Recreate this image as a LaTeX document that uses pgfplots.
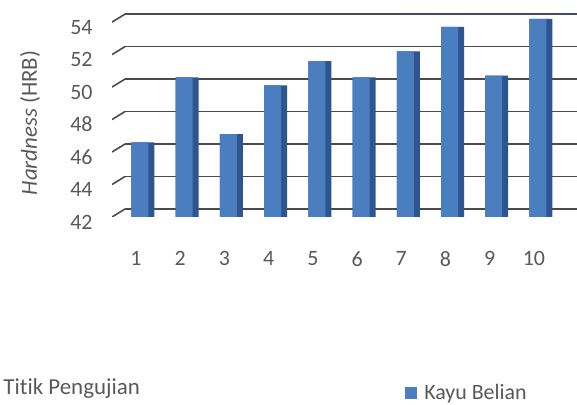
\documentclass[border=0pt]{standalone}
\usepackage{pgfplots}
\pgfplotsset{compat=1.18}
\usepackage{fontspec}
\setmainfont{Carlito}[Ligatures=NoCommon]
\definecolor{barfront}{HTML}{4A7EBF}
\definecolor{barside}{HTML}{2D5690}
\definecolor{gridc}{HTML}{4A4A4A}
\definecolor{txt}{HTML}{595959}
\definecolor{navyline}{HTML}{2E4D8A}
\begin{document}
\begin{tikzpicture}
\useasboundingbox (0,0) rectangle (577bp,405bp);
\begin{axis}[
  at={(112bp,188bp)}, anchor=south west,
  scale only axis, width=463bp, height=203bp,
  xmin=0.3, xmax=10.77, ymin=42, ymax=54.5,
  ybar,
  axis line style={draw=none},
  major tick length=0pt,
  xtick={1,...,10}, ytick={42,44,...,54},
  ymajorgrids,
  grid style={gridc, line width=1.6bp, yshift=8bp, xshift=13bp},
  tick label style={font=\fontsize{22}{24}\selectfont, text=txt},
  /pgf/number format/assume math mode=true,
  yticklabel style={anchor=east, xshift=-16bp, yshift=-5bp},
  xticklabel style={anchor=north, xshift=-7bp, yshift=-31bp},
  xlabel={Titik Pengujian},
  xlabel style={at={(-0.242,-0.872)}, anchor=base west, font=\fontsize{23}{25}\selectfont, text=txt},
  ylabel={\textit{Hardness} (HRB)},
  ylabel style={at={(-0.177,0.463)}, anchor=center, rotate=0, font=\fontsize{23}{25}\selectfont, text=txt},
  legend style={draw=none, fill=none, at={(0.633,-0.867)}, anchor=west, inner sep=0pt,
    font=\fontsize{22}{24}\selectfont, text=txt},
  legend image code/.code={\fill[barfront] (0bp,-6bp) rectangle (12bp,6bp); \path (17bp,0bp);},
]
\addplot[fill=barside, draw=none, bar width=23bp, bar shift=0bp, forget plot]
  coordinates {(1,46.6) (2,50.6) (3,47.1) (4,50.1) (5,51.6) (6,50.6) (7,52.2) (8,53.7) (9,50.7) (10,54.2)};
\addplot[fill=barfront, draw=none, bar width=17bp, bar shift=-3bp]
  coordinates {(1,46.6) (2,50.6) (3,47.1) (4,50.1) (5,51.6) (6,50.6) (7,52.2) (8,53.7) (9,50.7) (10,54.2)};
\addlegendentry{Kayu Belian}
\pgfplotsinvokeforeach{42,44,...,54}{
  \draw[gridc, line width=1.6bp] (axis cs:0.3,#1) -- ++(13bp,8bp);
}
\draw[navyline, line width=2.2bp] ([yshift=9bp]axis cs:6.79,54) -- ([yshift=9bp]axis cs:10.70,54);
\end{axis}
\end{tikzpicture}
\end{document}
